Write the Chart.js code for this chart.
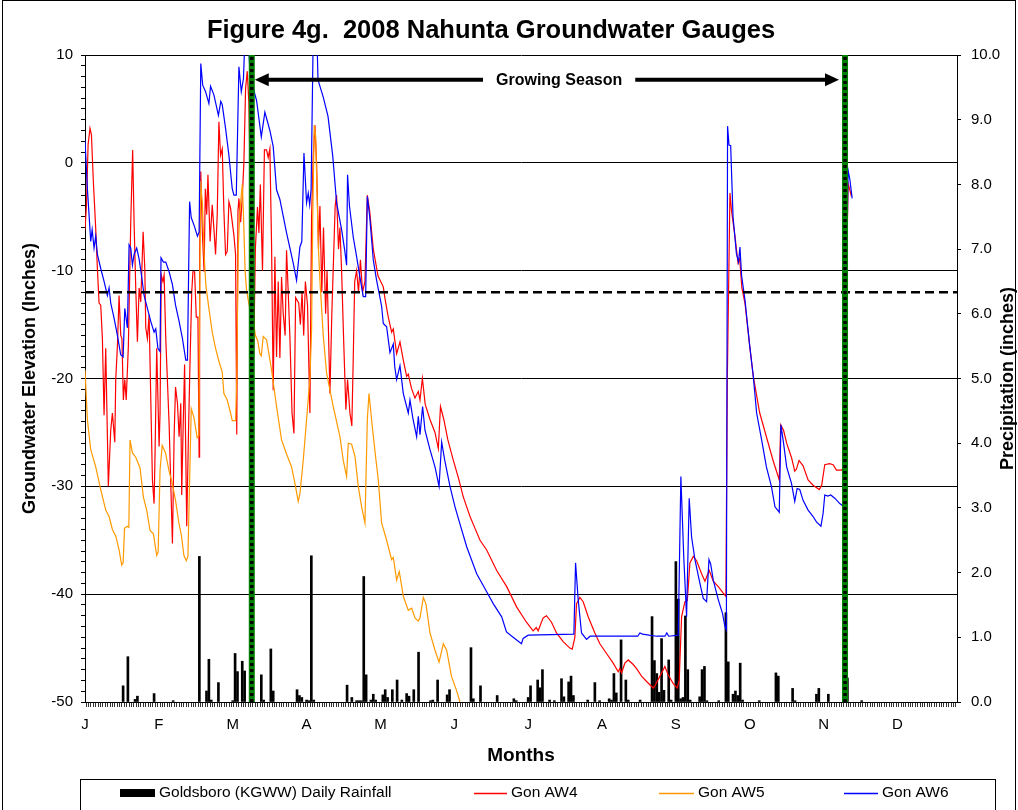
<!DOCTYPE html>
<html><head><meta charset="utf-8">
<script src="https://cdn.jsdelivr.net/npm/chart.js@4.4.1/dist/chart.umd.min.js"></script>
<style>html,body{margin:0;padding:0;background:#fff}#wrap{width:1018px;height:810px;position:relative;overflow:hidden}</style>
</head><body><div id="wrap"><canvas id="c" width="1018" height="810"></canvas></div>
<script>
// ---------- DATA ----------
const chartTitle = 'Figure 4g.  2008 Nahunta Groundwater Gauges';
const monthLabels = ['J','F','M','A','M','J','J','A','S','O','N','D'];
const labelEvery = 31;           // one month label every 31 days
const dayCount = 366;            // 2008 (leap year)
const leftRange = [-50, 10];
const rightRange = [0, 10];
const growingSeason = [70, 319]; // Mar 11 - Nov 15 (day of year, 0 = Jan 1)
const threshold = -12;           // 12-inch line
const arrowLevel = 7.7;          // height of the growing-season arrow (left axis)
const arrowTextDay = 199;

// Goldsboro (KGWW) daily rainfall [day, inches]
const rainfall = [[16,0.25],[18,0.7],[21,0.04],[22,0.09],[29,0.13],[37,0.02],[48,2.25],[51,0.17],[52,0.66],[53,0.03],[56,0.3],[62,0.02],[63,0.75],[64,0.47],[66,0.63],[67,0.48],[74,0.42],[75,0.03],[78,0.82],[79,0.17],[89,0.19],[90,0.1],[91,0.07],[93,0.03],[94,0.02],[95,2.26],[96,0.03],[110,0.26],[112,0.07],[114,0.02],[115,0.02],[116,0.02],[117,1.94],[118,0.42],[120,0.03],[121,0.12],[122,0.03],[125,0.11],[126,0.19],[127,0.07],[129,0.19],[131,0.34],[133,0.03],[135,0.13],[136,0.09],[138,0.19],[140,0.77],[145,0.02],[146,0.03],[148,0.34],[152,0.11],[153,0.19],[162,0.84],[163,0.05],[166,0.25],[173,0.1],[180,0.05],[181,0.02],[186,0.07],[187,0.25],[190,0.34],[191,0.22],[192,0.5],[195,0.03],[197,0.02],[200,0.36],[201,0.08],[203,0.31],[204,0.4],[205,0.1],[211,0.03],[214,0.3],[216,0.02],[220,0.05],[221,0.03],[222,0.44],[223,0.14],[225,0.96],[227,0.34],[228,0.03],[233,0.03],[238,1.32],[239,0.64],[240,0.44],[241,0.15],[242,0.98],[243,0.18],[245,0.65],[246,0.03],[248,2.17],[249,1.59],[250,0.05],[251,0.07],[252,1.33],[253,0.5],[254,0.03],[258,0.08],[259,0.5],[260,0.55],[261,0.02],[266,0.02],[269,1.38],[270,0.62],[272,0.12],[273,0.17],[274,0.1],[275,0.6],[276,0.03],[283,0.02],[290,0.45],[291,0.4],[297,0.21],[298,0.02],[307,0.12],[308,0.21],[312,0.12],[320,0.37],[326,0.02]];

// Gon AW4 groundwater elevation [day, inches]
const gonAW4 = [[0,-6.2],[0.6,-4],[1.3,1.7],[2.1,3.2],[2.7,2.6],[3.5,-1.7],[4.5,-6.1],[5.2,-9.8],[5.9,-13],[6.6,-13.2],[7.3,-16.3],[8,-23.4],[8.7,-17.2],[9.8,-30],[10.8,-24.8],[11.5,-23.2],[12.5,-25.9],[12.9,-20.1],[13.6,-17],[14.3,-12.3],[15,-16],[15.5,-16.3],[16.1,-22],[16.7,-20.1],[17.3,-22],[18.2,-17],[19.2,-5.5],[20,1.2],[20.6,-5.5],[21.3,-11.6],[22,-16.6],[22.7,-11.6],[23.4,-12.9],[24.4,-6.4],[25.1,-9.8],[25.5,-15.3],[26.2,-16.3],[26.9,-14.1],[28.3,-29.4],[29,-31.6],[29.4,-27],[30.1,-17.2],[31.1,-26.3],[31.5,-23.2],[32,-10.4],[32.7,-11],[33.2,-10.4],[33.9,-16.3],[35.3,-24.2],[36.7,-35.3],[37.4,-25.4],[38,-20.8],[38.8,-22.3],[39.5,-25.4],[40.2,-22.3],[40.6,-30.8],[41.1,-25.4],[41.8,-18.7],[42.7,-33.7],[43.4,-25.4],[44,-19.2],[44.8,-12],[45.3,-10.1],[46,-10.1],[46.7,-14.3],[47.4,-14.3],[47.9,-27.3],[48.1,-8.5],[48.6,-0.8],[49.3,-6.7],[50,-10.1],[50.5,-2.4],[51.1,-4.8],[51.6,-1.1],[52.5,-7.3],[53.4,-3.9],[54.1,-6.1],[54.8,-8.5],[55.5,-4.8],[56.2,3.8],[56.9,0.7],[57.6,1.3],[58.3,-4.5],[59,-8.5],[59.7,-8.2],[60.4,-3.6],[61.1,-4.2],[61.8,-5.5],[62.5,-6.7],[63.2,-8.5],[63.7,-25.2],[64.2,-4.5],[64.6,-3.3],[65.3,-5.5],[66,-3.3],[66.7,0.1],[67.4,6.9],[68.1,8.5],[68.8,5.5],[69.5,-4],[70.2,-12],[70.8,-18],[71.5,-8],[72.4,-4.1],[73,-6.5],[73.6,-2],[74.5,-10],[75.3,1.2],[76.2,1.2],[76.9,0.5],[77.6,1.3],[78.3,-7.5],[79,-21.1],[79.7,-8.7],[80.4,-18],[81.1,-11],[81.8,-18.1],[82.5,-10.6],[83.2,-14],[84,-16],[84.6,-8.1],[85.3,-12],[86,-16.1],[86.9,-23.2],[87.7,-25.1],[88.4,-12.5],[89.7,-13],[90.4,-15],[91.1,-12],[91.8,-16],[92.5,-11],[93.4,-13.2],[94.4,-23.2],[95.1,-5],[95.8,0.6],[96.5,3.5],[97.2,0],[98,-8],[98.6,-4],[99.4,-12],[100.1,-6],[101,-14],[101.6,-10],[102.8,-21.4],[103.6,-14],[104.3,-9],[105,-4],[105.6,-3],[106.4,-8],[107,-6],[107.7,-10],[108.5,-16],[109.5,-22.9],[110.2,-20.1],[111.2,-23.2],[112,-24.4],[112.6,-18],[113.2,-11],[114,-10],[114.8,-12],[115.6,-9],[116.5,-12],[117.5,-11],[118.5,-3],[119.5,-4.5],[121,-8],[123,-10.5],[125.2,-11.5],[126,-12.7],[127.3,-14.3],[128.7,-15.7],[129.4,-15.4],[130.8,-17.7],[132.2,-16.6],[133.6,-18.3],[135,-19.8],[135.7,-19.6],[137,-20.9],[138.5,-21.8],[139.9,-21.2],[140.6,-22],[141.6,-20],[142.8,-22.4],[144.8,-23.8],[146.9,-25],[148.3,-26.5],[149.2,-22.6],[150.6,-23.8],[152.3,-25.7],[154.6,-27.6],[156.7,-29.2],[158.8,-31],[161.6,-32.8],[163.7,-33.9],[165.8,-35],[168.6,-35.9],[172.8,-37.8],[177,-39.3],[181.2,-41.2],[185.3,-42.6],[188.1,-43.4],[189.4,-43.1],[190.2,-43.4],[192.3,-42.2],[193.7,-42],[195.8,-42.6],[197.9,-43.6],[200.7,-44.4],[203.5,-45],[204.5,-45.1],[205.6,-44],[206.3,-40.9],[207.7,-40.3],[209.1,-40.7],[211.2,-42.1],[214,-43.6],[216.1,-44.6],[218.9,-45.5],[221.7,-46.4],[223.8,-47.2],[224.5,-46.9],[225.2,-47.3],[226.6,-46.4],[228,-46.1],[230,-46.5],[231.5,-46.9],[233.6,-47.6],[235.7,-48.1],[238.5,-48.7],[239.2,-48.5],[241.3,-47.6],[243.4,-46.7],[244.8,-47.5],[246.9,-48.3],[248.6,-48.7],[249.4,-48],[250.4,-42.1],[251.8,-40.7],[252.8,-40.6],[253.9,-37.1],[255.3,-36.5],[256.7,-36.9],[258.8,-38.1],[260.2,-38.8],[262,-37.8],[263.7,-38.8],[265.8,-39.3],[267.9,-39.9],[269,-40.2],[269.6,-20],[270.7,-2.8],[271.4,-4.5],[272.8,-6.8],[274.1,-9.3],[274.8,-8.9],[275.7,-11.6],[277,-13],[279,-17],[280.5,-19.8],[283.2,-23.2],[286,-25.4],[288.8,-27.6],[291.4,-29.4],[292,-24.3],[293.2,-24.8],[294.5,-26],[296.5,-27.3],[297.9,-28.6],[298.6,-28.4],[299.7,-27.6],[301.4,-28.1],[303.5,-29.4],[305.6,-29.9],[308.2,-30.3],[309.2,-29.9],[310.5,-28],[312.5,-27.9],[314,-28],[315.4,-28.5],[317.5,-28.5],[318.2,-28.3],[319.3,-14],[320.3,-1.9],[321.7,-3.1]];

// Gon AW5 groundwater elevation [day, inches]
const gonAW5 = [[0,-19.2],[1,-23.8],[2.4,-26.6],[4.5,-28.2],[6.6,-30.3],[8.7,-32.2],[10.1,-32.8],[11.5,-34],[12.9,-34.6],[14.3,-35.9],[15.4,-37.3],[16,-37.1],[16.6,-33.9],[17.7,-33.7],[18.4,-33.8],[18.9,-25.7],[19.9,-26.9],[21.3,-27.3],[23.1,-28.3],[24.5,-31],[25.9,-32.2],[27.3,-34.1],[28.7,-34.4],[30.1,-36.4],[30.7,-36.1],[31.5,-28.5],[32.4,-26.2],[33.8,-26.9],[35.2,-28.5],[36.6,-29.7],[38,-31.3],[39.4,-33.4],[40.5,-34.6],[41.5,-36.4],[42.5,-36.9],[43.2,-36.5],[44,-28.5],[44.6,-22.8],[45.7,-23.6],[47.1,-25.5],[47.8,-25.3],[48.5,-1.7],[49.3,-3.9],[50,-8.5],[50.7,-11.3],[52,-13.5],[53.4,-15.7],[54.8,-17.2],[56.2,-18.4],[57.6,-19.4],[58.3,-21.4],[59.7,-22],[61.1,-23.2],[61.8,-23.9],[63.2,-23.9],[63.7,-20.1],[64.3,-8],[65,-4.5],[66,-2],[66.5,-4.7],[67.2,-10],[67.8,-11.8],[69.2,-13.6],[70.5,-14.3],[71.5,-16],[72.5,-16.5],[73.4,-17.7],[74,-17.9],[74.8,-16.1],[76.2,-16.4],[78.3,-19.2],[80.4,-22.6],[82.5,-25.7],[84.6,-27],[86.7,-28.2],[88.1,-29.7],[89.5,-31.4],[90.2,-30.7],[91.6,-27.6],[93,-23.8],[94.4,-20],[95.1,-15.5],[95.6,-5],[96.2,3.5],[96.8,2.5],[97.3,-2],[98,-8],[98.6,-10.9],[100,-16],[101.4,-19.5],[104.2,-22.6],[107,-25.4],[108.4,-27.6],[109.8,-29.1],[110.5,-26],[111.9,-26.1],[113.3,-27.2],[114.7,-30],[116.1,-31.9],[117.5,-33.4],[118.5,-23.8],[119.2,-21.4],[120.6,-24.5],[122.1,-27.5],[123.1,-29.4],[124.5,-33.4],[126.6,-35],[128.7,-36.8],[129.4,-36.6],[130.8,-38.7],[131.9,-37.9],[132.5,-38.7],[133.6,-40.2],[135.7,-41.5],[137.1,-41.3],[138.5,-42.2],[139.9,-42.5],[140.6,-42.2],[142,-40.3],[143.1,-40.9],[144.8,-43.6],[146.9,-45.2],[148.6,-46.3],[150.4,-44.6],[151.8,-45.2],[153.8,-47.6],[155.9,-48.9],[157.4,-50]];

// Gon AW6 groundwater elevation [day, inches]
const gonAW6 = [[0,2.1],[1,-2.4],[1.7,-4.8],[2.4,-7.3],[3,-6.2],[3.8,-7.9],[4.5,-6.8],[5.2,-8.5],[6.6,-9.8],[8,-11],[9.4,-12.3],[10.1,-11.6],[10.8,-13],[12.2,-14.4],[13.6,-16],[15,-17.8],[16,-18],[16.7,-13.5],[17.8,-15.3],[18.5,-7.6],[19.2,-7.9],[19.9,-9.5],[20.6,-8.5],[21.7,-7.9],[22.7,-8.9],[23.7,-10.4],[24.8,-12.3],[26.2,-13.5],[27.6,-14.7],[29,-15.7],[29.7,-15.4],[30.6,-17.2],[31.5,-17.5],[31.9,-8.8],[32.9,-9.2],[33.9,-9.2],[35.3,-10.1],[36.7,-11.3],[38,-13.2],[39.5,-14.7],[40.9,-16.3],[42.3,-18.3],[43,-18.3],[43.9,-3.6],[44.6,-5.1],[45.8,-5.8],[47.2,-6.8],[47.9,-6.4],[48.6,9.2],[49.4,7.2],[50.6,6.6],[52,5.5],[52.7,7.1],[54.1,6.3],[56,4.4],[57,5.7],[57.6,5.4],[59,3.2],[60.4,0.7],[61.8,-2.4],[62.5,-3],[63.5,-3],[64.6,8.9],[65.6,6.6],[66.5,7.8],[67.2,12],[68.4,12],[69.5,7.3],[70.5,7],[72,5.8],[74,2.4],[75.5,4.7],[77.6,3],[79,1.5],[80.4,-2.5],[81.8,-3.4],[84.6,-6.5],[87.4,-9.3],[88.8,-10.9],[90.2,-7.8],[91,-7.3],[91.9,0.9],[93,-3.7],[93.7,-2.8],[94.3,-3.9],[94.9,-2.5],[95.8,12],[97.3,12],[97.8,7.7],[100,6.1],[102,4.3],[104,0.6],[105.6,-3.7],[107.7,-6.2],[109,-8.1],[109.8,-9.5],[110.2,-1.1],[111,-4],[112.6,-6.9],[114,-8.7],[115.4,-10.6],[116.8,-12.4],[117.8,-12.4],[118.5,-3.1],[119.5,-5],[121,-9],[122.4,-10.9],[124.5,-13.3],[125.2,-14.9],[126.6,-15.2],[128,-17.6],[129.4,-16.8],[130,-18.9],[130.8,-20.1],[132.2,-18.8],[133.6,-21.4],[135.7,-23.2],[136.4,-22],[137.7,-23.8],[139.2,-25.4],[139.9,-23.5],[140.6,-25.2],[141.7,-22.6],[142.7,-24.8],[144.8,-26.6],[146.9,-28.2],[148.6,-30],[149.7,-25.9],[151,-27.6],[153.2,-30],[155.3,-31.9],[157.4,-33.5],[160.2,-35.6],[164.4,-38.1],[167.9,-39.5],[171.4,-40.9],[174.9,-42.1],[176.9,-43.5],[179.7,-44],[183.2,-44.6],[183.9,-44.1],[186,-43.8],[205.2,-43.7],[205.9,-37.1],[207,-40.5],[208.4,-43.6],[210.5,-44.2],[212,-43.9],[232,-43.9],[232.9,-43.6],[234,-43.7],[236.7,-43.8],[240,-43.9],[243.4,-43.9],[244.2,-43.6],[245,-43.9],[249,-43.8],[250.1,-29.1],[251.3,-36.5],[252.5,-42.1],[253.6,-31.1],[254.6,-34.7],[256,-36.8],[258.1,-39],[259.5,-40.4],[260.9,-40.7],[261.9,-36.8],[262.6,-37.2],[263.7,-38.7],[265.8,-40.5],[267.6,-41.8],[268.6,-43],[269.2,-43.3],[269.7,3.4],[270.3,1.65],[271,1.6],[272,-5],[273.4,-8.4],[274.3,-9.2],[274.9,-7.8],[275.6,-10.5],[277,-12.7],[279,-17],[280.5,-19.8],[281.9,-23.2],[284,-25.7],[286,-28.2],[288.1,-30],[289.6,-31.9],[291.4,-32.4],[292.1,-24.3],[293.2,-26],[294.5,-28.2],[296.5,-29.7],[297.9,-31.4],[298.9,-30.2],[300,-30.3],[301.4,-31.3],[303.5,-32.2],[305.6,-32.8],[307,-33.3],[308.9,-33.7],[309.8,-32.5],[310.5,-30.8],[311.8,-30.9],[313,-30.8],[314.7,-31.1],[316.8,-31.6],[318,-31.8],[319.5,-12],[320.3,-0.7],[321,-1.5],[322,-3.3]];

// ---------- helpers (tick positions / shape building only) ----------
const range = (a, b) => { const r = []; for (let v = a; v <= b; v++) r.push(v); return r; };
const dayTicks = range(0, dayCount);
const leftTicks = range(leftRange[0], leftRange[1]);
const rightTicks = range(rightRange[0], rightRange[1]);
const toXY = arr => arr.map(([x, y]) => ({x, y}));
const vlines = days => days.flatMap((d, i) => {
  const seg = [{x: d, y: leftRange[0]}, {x: d, y: leftRange[1]}];
  return i < days.length - 1 ? [...seg, {x: d, y: null}] : seg;
});

const FONT = '"Liberation Sans", Arial, Helvetica, sans-serif';
Chart.defaults.font.family = FONT;
Chart.defaults.color = '#000';

const decor = {
  id: 'decor',
  afterDatasetsDraw(chart) {
    const {ctx, scales: {x, y}} = chart;
    const yA = y.getPixelForValue(arrowLevel);
    const xa = x.getPixelForValue(growingSeason[0]) + 3;
    const xb = x.getPixelForValue(growingSeason[1]) - 6;
    ctx.save();
    ctx.fillStyle = '#000'; ctx.strokeStyle = '#000'; ctx.lineWidth = 4;
    ctx.beginPath(); ctx.moveTo(xa + 12, yA); ctx.lineTo(xb - 12, yA); ctx.stroke();
    ctx.beginPath(); ctx.moveTo(xa, yA); ctx.lineTo(xa + 14, yA - 6.5); ctx.lineTo(xa + 14, yA + 6.5); ctx.closePath(); ctx.fill();
    ctx.beginPath(); ctx.moveTo(xb, yA); ctx.lineTo(xb - 14, yA - 6.5); ctx.lineTo(xb - 14, yA + 6.5); ctx.closePath(); ctx.fill();
    const label = 'Growing Season';
    ctx.font = 'bold 16px ' + FONT;
    const tw = ctx.measureText(label).width;
    const cx = x.getPixelForValue(arrowTextDay);
    ctx.fillStyle = '#fff'; ctx.fillRect(cx - tw / 2 - 13, yA - 5, tw + 26, 10);
    ctx.fillStyle = '#000'; ctx.textAlign = 'center'; ctx.textBaseline = 'middle';
    ctx.fillText(label, cx, yA + 1);
    ctx.restore();
  },
  afterDraw(chart) {
    const {ctx, chartArea, scales: {y2}} = chart;
    ctx.save();
    // chart title
    ctx.font = 'bold 25.5px ' + FONT;
    ctx.fillStyle = '#000'; ctx.textAlign = 'center'; ctx.textBaseline = 'middle';
    ctx.fillText(chartTitle, 491, 31);
    // right axis title, reading bottom to top
    ctx.font = 'bold 18px ' + FONT;
    ctx.translate(y2.right - 10, (chartArea.top + chartArea.bottom) / 2);
    ctx.rotate(-Math.PI / 2);
    ctx.fillText('Precipitation (inches)', 0, 0);
    ctx.restore();
    // legend box
    ctx.save();
    ctx.strokeStyle = '#000'; ctx.lineWidth = 1;
    ctx.strokeRect(80.5, 779.5, 915, 60);
    const ly = 793;
    ctx.font = '15.5px ' + FONT; ctx.textBaseline = 'middle'; ctx.textAlign = 'left';
    const ds = chart.data.datasets;
    const slots = [[120, 35], [474, 33], [659, 35], [844, 34]];
    [0, 1, 2, 3].forEach((di, i) => {
      const [sx, sw] = slots[i];
      const d = ds[di];
      if (d.type === 'bar') {
        ctx.fillStyle = d.backgroundColor; ctx.fillRect(sx, ly - 4, sw, 8);
      } else {
        ctx.strokeStyle = d.borderColor; ctx.lineWidth = 1.5;
        ctx.beginPath(); ctx.moveTo(sx, ly + 0.5); ctx.lineTo(sx + sw, ly + 0.5); ctx.stroke();
      }
      ctx.fillStyle = '#000';
      ctx.fillText(d.label, sx + sw + 4, ly);
    });
    // outer frame
    ctx.strokeStyle = '#000'; ctx.lineWidth = 1;
    ctx.strokeRect(2.5, 0.5, 1013, 830);
    ctx.restore();
  }
};

new Chart(document.getElementById('c'), {
  type: 'line',
  plugins: [decor],
  data: {
    datasets: [
      {type: 'bar', label: 'Goldsboro (KGWW) Daily Rainfall', data: toXY(rainfall), yAxisID: 'y2',
       backgroundColor: '#000', borderWidth: 0, barThickness: 2, grouped: false, order: 10},
      {label: 'Gon AW4', data: toXY(gonAW4), yAxisID: 'y', borderColor: '#ff0000', borderWidth: 1.2, order: 3},
      {label: 'Gon AW5', data: toXY(gonAW5), yAxisID: 'y', borderColor: '#ff9900', borderWidth: 1.2, order: 2},
      {label: 'Gon AW6', data: toXY(gonAW6), yAxisID: 'y', borderColor: '#0000ff', borderWidth: 1.2, order: 1},
      {label: '12-inch line', data: toXY([[0, threshold], [dayCount, threshold]]), yAxisID: 'y',
       borderColor: '#000', borderWidth: 2.5, borderDash: [9, 5], order: 0},
      {label: 'gs-green', data: vlines(growingSeason), yAxisID: 'y', borderColor: '#008000', borderWidth: 6, order: -1},
      {label: 'gs-black', data: vlines(growingSeason), yAxisID: 'y', borderColor: '#000', borderWidth: 3.5, borderDash: [3, 3], order: -2}
    ]
  },
  options: {
    responsive: false, animation: false, devicePixelRatio: 1,
    elements: {point: {radius: 0, hoverRadius: 0}, line: {tension: 0, fill: false}},
    layout: {padding: {top: 55, left: 0, right: 0, bottom: 0}},
    plugins: {
      legend: {display: false},
      tooltip: {enabled: false},
      title: {display: false}
    },
    scales: {
      x: {
        type: 'linear', min: 0, max: dayCount, offset: false, position: 'bottom',
        afterBuildTicks: s => { s.ticks = dayTicks.map(v => ({value: v})); },
        afterFit: s => { s.height = 108; },
        grid: {drawOnChartArea: false, drawTicks: true, tickLength: 5, tickColor: '#333', lineWidth: 1},
        border: {display: true, color: '#000', width: 1},
        ticks: {autoSkip: false, maxRotation: 0, minRotation: 0, padding: 9, font: {size: 15}, color: '#000',
                callback: v => (v % labelEvery === 0 && monthLabels[v / labelEvery]) ? monthLabels[v / labelEvery] : ''},
        title: {display: true, text: 'Months', color: '#000', font: {size: 19, weight: 'bold'}, padding: {top: 0, bottom: 43}}
      },
      y: {
        position: 'left', min: leftRange[0], max: leftRange[1],
        afterBuildTicks: s => { s.ticks = leftTicks.map(v => ({value: v})); },
        afterFit: s => { s.width = 85; },
        grid: {color: c => (c.tick && c.tick.value % 10 === 0) ? '#000' : 'rgba(0,0,0,0)', tickColor: '#000', tickLength: 4, lineWidth: 1},
        border: {display: true, color: '#000', width: 1},
        ticks: {autoSkip: false, padding: 8, font: {size: 15}, color: '#000', callback: v => (v % 10 === 0) ? String(v) : ''},
        title: {display: true, text: 'Groundwater Elevation (Inches)', color: '#000', font: {size: 18, weight: 'bold'}, padding: {top: 19, bottom: 0}}
      },
      y2: {
        position: 'right', min: rightRange[0], max: rightRange[1],
        afterBuildTicks: s => { s.ticks = rightTicks.map(v => ({value: v})); },
        afterFit: s => { s.width = 61; },
        grid: {drawOnChartArea: false, tickColor: '#000', tickLength: 4},
        border: {display: true, color: '#000', width: 1},
        ticks: {autoSkip: false, padding: 10, font: {size: 15}, color: '#000', callback: v => Number(v).toFixed(1)},
        title: {display: false}
      }
    }
  }
});
</script></body></html>
